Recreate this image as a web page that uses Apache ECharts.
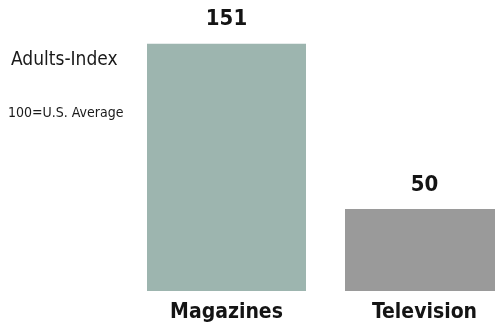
<!DOCTYPE html>
<html>
<head>
<meta charset="utf-8">
<script src="https://cdn.jsdelivr.net/npm/echarts@6/dist/echarts.min.js"></script>
<style>html,body{margin:0;padding:0;background:#fff}#c{width:495px;height:327px}</style>
</head>
<body>
<div id="c"></div>
<script>
const categories = ['Magazines', 'Television'];
const values = [151, 50];
const barColors = ['#9db5af', '#9a9a9a'];
const titleText = 'Adults-Index';
const noteText = '100=U.S. Average';

const FONT = '"Liberation Sans Narrow", "DejaVu Sans Condensed", sans-serif';
const chart = echarts.init(document.getElementById('c'), null, {renderer: 'canvas'});
chart.setOption({
  animation: false,
  backgroundColor: '#ffffff',
  grid: {left: 127.5, top: 28.9, width: 396, height: 262.1, containLabel: false, outerBoundsMode: 'none'},
  xAxis: {
    type: 'category',
    data: categories,
    axisLine: {show: false},
    axisTick: {show: false},
    axisLabel: {
      margin: 11,
      color: '#141414',
      fontFamily: FONT,
      fontWeight: 'bold',
      fontSize: 21
    }
  },
  yAxis: {
    type: 'value', min: 0, max: 160,
    show: false,
    splitLine: {show: false}
  },
  series: [{
    type: 'bar',
    barWidth: 159,
    data: values.map((v, i) => ({value: v, itemStyle: {color: barColors[i]}})),
    label: {
      show: true,
      position: 'top',
      distance: 13,
      color: '#141414',
      fontFamily: FONT,
      fontWeight: 'bold',
      fontSize: 22
    }
  }],
  graphic: [
    {type: 'text', left: 11, top: 51, style: {text: titleText, fontFamily: FONT, fontSize: 19, fill: '#1a1a1a'}},
    {type: 'text', left: 8, top: 106, style: {text: noteText, fontFamily: FONT, fontSize: 14, fill: '#1a1a1a'}}
  ]
});
</script>
</body>
</html>
